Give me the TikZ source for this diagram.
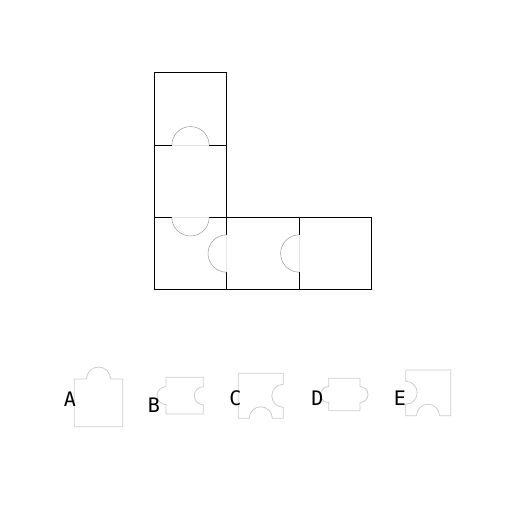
\documentclass[tikz,border=0pt]{standalone}
\usepackage{fontspec}
\newfontfamily\optfont{DejaVu Sans Mono}
\usepackage{tikz}
\usetikzlibrary{positioning}
\begin{document}
\begin{tikzpicture}[x=1pt, y=-1pt, line join=miter]
\useasboundingbox (0,0) rectangle (512,512);
\tikzstyle{edge} = [black, line width=1.2pt]
\tikzstyle{knob} = [gray!80, line width=0.5pt]
\tikzstyle{seam} = [gray!20, line width=0.5pt]
\tikzstyle{piece} = [gray!40, line width=0.8pt]
\tikzstyle{every node} = [inner sep=0pt, font=\optfont\fontsize{20}{20}\selectfont]
% the L of five squares
\draw[edge] (154.3,72.3) -- (154.3,289.7)
	(154.3,72.3) -- (226.7,72.3) -- (226.7,217.3)
	(154.3,145.3) -- (171.8,145.3) (209.2,145.3) -- (226.7,145.3)
	(154.3,217.3) -- (171.8,217.3) (209.2,217.3) -- (371.3,217.3)
	(226.7,217.3) -- (226.7,234.8) (226.7,272.2) -- (226.7,289.7)
	(299.3,217.3) -- (299.3,234.8) (299.3,272.2) -- (299.3,289.7)
	(371.3,217.3) -- (371.3,289.7)
	(154.3,289.7) -- (371.3,289.7);
\draw[seam] (171.8,145.3) -- (209.2,145.3)
	(171.8,217.3) -- (209.2,217.3)
	(226.7,234.8) -- (226.7,272.2)
	(299.3,234.8) -- (299.3,272.2);
\draw[knob] (171.8,145.3) arc (180:360:18.7);
\draw[knob] (171.8,217.3) arc (180:0:18.7);
\draw[knob] (226.7,234.8) arc (270:90:18.7);
\draw[knob] (299.3,234.8) arc (270:90:18.7);
% answer pieces
\draw[piece] (74.3,426.7) -- (74.3,379) -- (86.5,379) arc (180:360:12) -- (122.7,379) -- (122.7,426.7) -- cycle;
\draw[piece] (166,377.3) -- (203.3,377.3) -- (203.3,386.7) arc (270:90:9) -- (203.3,414) -- (166,414) -- (166,404.7) arc (90:270:9) -- cycle;
\draw[piece] (238.3,373.3) -- (283.3,373.3) -- (283.3,384.3) arc (270:90:11.5) -- (283.3,418.3) -- (272.3,418.3) arc (0:-180:11.5) -- (238.3,418.3) -- cycle;
\draw[piece] (328.7,378.3) -- (360,378.3) -- (360,386.5) arc (-90:90:8) -- (360,410.7) -- (328.7,410.7) -- (328.7,402.5) arc (90:270:8) -- cycle;
\draw[piece] (405.7,370) -- (450.7,370) -- (450.7,415.7) -- (439.5,415.7) arc (0:-180:11.5) -- (405.7,415.7) -- (405.7,404.2) arc (90:-90:11.5) -- cycle;
% labels
\node (a) at (70,399.5) {A};
\node (b) at (154,405) {B};
\node (c) at (235.5,398.5) {C};
\node (d) at (317.5,398.5) {D};
\node (e) at (400,398.5) {E};
\end{tikzpicture}
\end{document}
